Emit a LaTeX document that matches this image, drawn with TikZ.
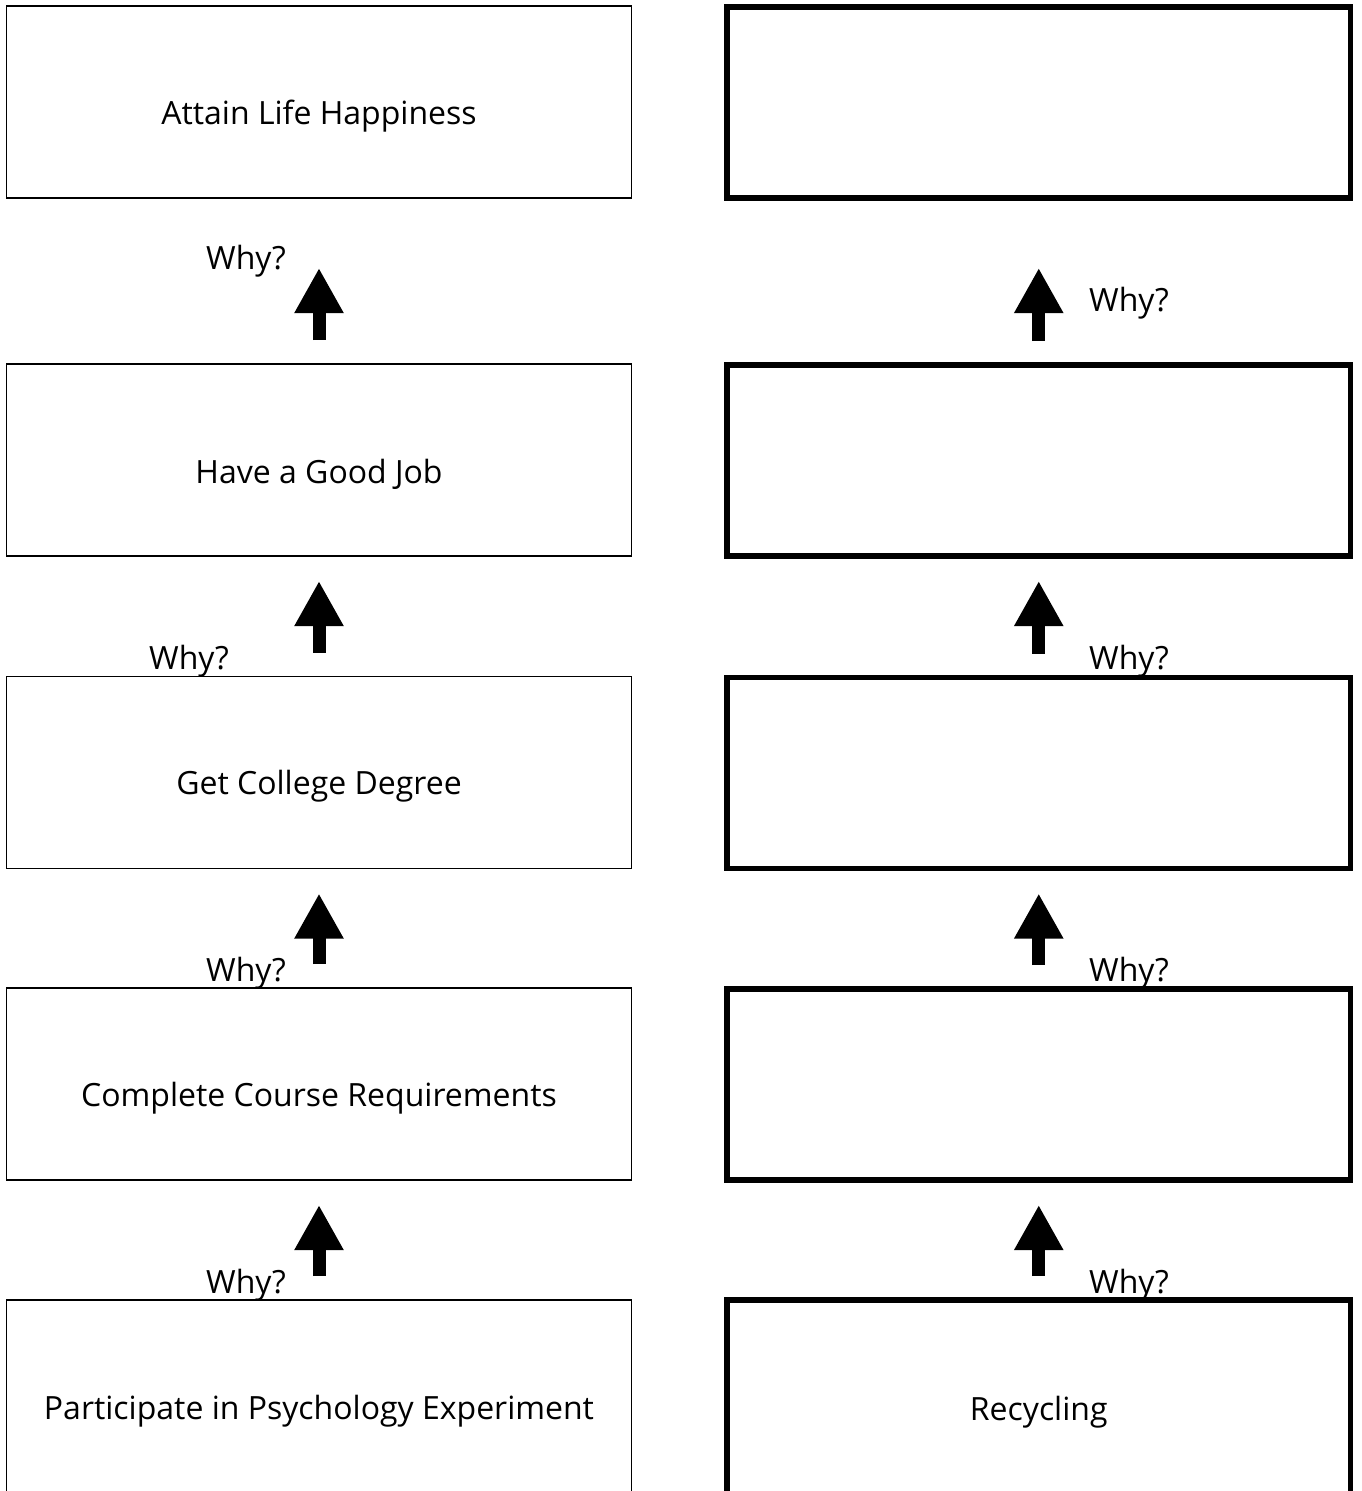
\documentclass[tikz,border=0pt]{standalone}
\usepackage{fontspec}
\setmainfont{Open Sans}
\usetikzlibrary{arrows.meta,calc}
\begin{document}
\begin{tikzpicture}[x=1pt,y=-1pt,
  thinbox/.style={draw, line width=1.5pt, minimum width=625pt, minimum height=192pt, inner sep=0pt, outer sep=0pt},
  thickbox/.style={draw, line width=5.5pt, minimum width=623.5pt, minimum height=191pt, inner sep=0pt, outer sep=0pt},
  boxtext/.style={font=\fontsize{32}{38}\selectfont, inner sep=0pt},
  whytext/.style={font=\fontsize{32}{38}\selectfont, inner sep=0pt},
  bigarrow/.style={line width=13pt, -{Triangle[width=46pt,length=45pt]}}]
\useasboundingbox (0,0) rectangle (1361,1491);
\clip (0,0) rectangle (1361,1491);
% left column
\node[thinbox, label={[boxtext, yshift=-14pt]center:Attain Life Happiness}] (L1) at (319,102) {};
\node[thinbox, label={[boxtext, yshift=-14pt]center:Have a Good Job}] (L2) at (319,460) {};
\node[thinbox, label={[boxtext, yshift=-14pt]center:Get College Degree}] (L3) at (319,772.5) {};
\node[thinbox, label={[boxtext, yshift=-14pt]center:Complete Course Requirements}] (L4) at (319,1084) {};
\node[thinbox, minimum height=200pt, label={[boxtext, yshift=-11pt]center:Participate in Psychology Experiment}] (L5) at (319,1400) {};
% right column
\node[thickbox] (R1) at (1038.75,102.5) {};
\node[thickbox] (R2) at (1038.75,460.5) {};
\node[thickbox] (R3) at (1038.75,773) {};
\node[thickbox] (R4) at (1038.75,1084.5) {};
\node[thickbox, minimum height=204pt, label={[boxtext, yshift=-10pt]center:Recycling}] (R5) at (1038.75,1402) {};
% arrows left
\draw[bigarrow] ($(L2.north)+(0,24pt)$) -- ($(L1.south)+(0,-70pt)$);
\draw[bigarrow] ($(L3.north)+(0,24pt)$) -- ($(L2.south)+(0,-25pt)$);
\draw[bigarrow] ($(L4.north)+(0,24pt)$) -- ($(L3.south)+(0,-25pt)$);
\draw[bigarrow] ($(L5.north)+(0,24pt)$) -- ($(L4.south)+(0,-25pt)$);
% arrows right
\draw[bigarrow] ($(R2.north)+(0,24pt)$) -- ($(R1.south)+(0,-70pt)$);
\draw[bigarrow] ($(R3.north)+(0,24pt)$) -- ($(R2.south)+(0,-25pt)$);
\draw[bigarrow] ($(R4.north)+(0,24pt)$) -- ($(R3.south)+(0,-25pt)$);
\draw[bigarrow] ($(R5.north)+(0,24pt)$) -- ($(R4.south)+(0,-25pt)$);
% labels
\node[whytext] (w1) at (246,261) {Why?};
\node[whytext] (w2) at (189,661) {Why?};
\node[whytext] (w3) at (246,973) {Why?};
\node[whytext] (w4) at (246,1285) {Why?};
\node[whytext] (w5) at (1129,303) {Why?};
\node[whytext] (w6) at (1129,661) {Why?};
\node[whytext] (w7) at (1129,973) {Why?};
\node[whytext] (w8) at (1129,1285) {Why?};
\end{tikzpicture}
\end{document}
